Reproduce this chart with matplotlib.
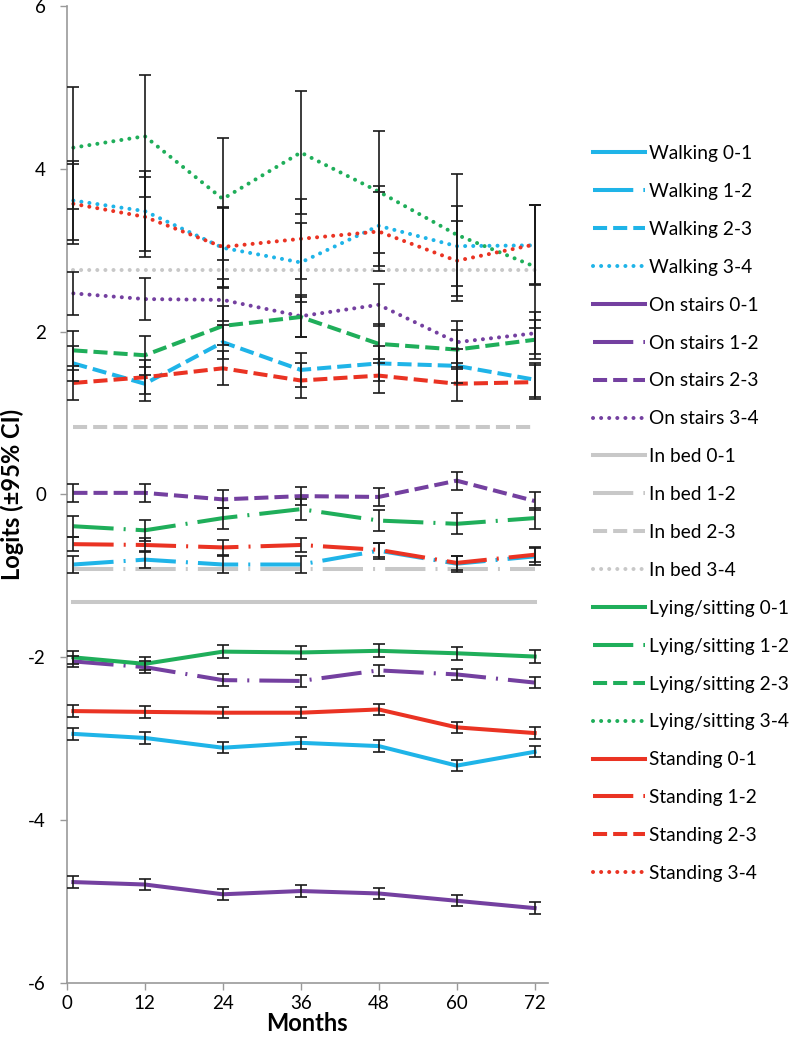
import numpy as np
import matplotlib
matplotlib.use("Agg")
import matplotlib.pyplot as plt

plt.rcParams['font.family'] = ['Lato', 'DejaVu Sans']
plt.rcParams['axes.unicode_minus'] = False

MONTHS = [1, 12, 24, 36, 48, 60, 72]
XTICKS = [0, 12, 24, 36, 48, 60, 72]

# logits per series
walking_01 = [-2.94, -2.99, -3.11, -3.05, -3.09, -3.33, -3.16]
walking_12 = [-0.86, -0.80, -0.86, -0.86, -0.69, -0.85, -0.76]
walking_23 = [1.61, 1.36, 1.87, 1.53, 1.61, 1.58, 1.41]
walking_34 = [3.61, 3.48, 3.03, 2.85, 3.30, 3.05, 3.06]

stairs_01 = [-4.76, -4.79, -4.91, -4.87, -4.90, -4.99, -5.08]
stairs_12 = [-2.05, -2.12, -2.28, -2.29, -2.16, -2.21, -2.31]
stairs_23 = [0.02, 0.02, -0.06, -0.02, -0.03, 0.17, -0.08]
stairs_34 = [2.47, 2.40, 2.39, 2.19, 2.33, 1.87, 1.98]

bed_01 = [-1.32] * 7
bed_12 = [-0.91] * 7
bed_23 = [0.83] * 7
bed_34 = [2.76] * 7

lying_01 = [-2.00, -2.08, -1.93, -1.94, -1.92, -1.95, -1.99]
lying_12 = [-0.39, -0.44, -0.29, -0.18, -0.32, -0.36, -0.29]
lying_23 = [1.77, 1.71, 2.07, 2.18, 1.85, 1.78, 1.90]
lying_34 = [4.26, 4.40, 3.63, 4.20, 3.72, 3.19, 2.80]

standing_01 = [-2.66, -2.67, -2.68, -2.68, -2.64, -2.86, -2.93]
standing_12 = [-0.61, -0.62, -0.65, -0.62, -0.68, -0.84, -0.74]
standing_23 = [1.37, 1.44, 1.55, 1.40, 1.46, 1.36, 1.38]
standing_34 = [3.57, 3.41, 3.04, 3.14, 3.23, 2.87, 3.07]

# half widths of the 95% CI (None = no error bars)
ci_walking = [0.07, 0.10, 0.21, 0.49]
ci_stairs = [0.07, 0.07, 0.11, 0.26]
ci_bed = [None, None, None, None]
ci_lying = [0.08, 0.13, 0.24, 0.75]
ci_standing = [0.07, 0.09, 0.21, 0.49]

activities = ["Walking", "On stairs", "In bed", "Lying/sitting", "Standing"]
levels = ["0-1", "1-2", "2-3", "3-4"]
series = [
    [walking_01, walking_12, walking_23, walking_34],
    [stairs_01, stairs_12, stairs_23, stairs_34],
    [bed_01, bed_12, bed_23, bed_34],
    [lying_01, lying_12, lying_23, lying_34],
    [standing_01, standing_12, standing_23, standing_34],
]
cis = [ci_walking, ci_stairs, ci_bed, ci_lying, ci_standing]
colors = ["#1fb4e8", "#7440a0", "#c8c8c8", "#1fae5a", "#ea3323"]

styles = [
    dict(linestyle="-"),
    dict(linestyle=(0, (10, 2.5, 0.5, 2.5)), dash_capstyle="butt"),
    dict(linestyle=(0, (3.5, 1.5)), dash_capstyle="butt"),
    dict(linestyle=(0, (0.01, 2)), dash_capstyle="round"),
]

fig = plt.figure(figsize=(7.96, 10.45), dpi=100)
ax = fig.add_axes([0.084, 0.0593, 0.604, 0.935])

for act, ser, ci, col in zip(activities, series, cis, colors):
    for lev, vals, err, st in zip(levels, ser, ci, styles):
        ax.plot(MONTHS, vals, color=col, lw=2.9, label=f"{act} {lev}",
                zorder=3, **st)
        if err is not None:
            ax.errorbar(MONTHS, vals, yerr=err, fmt="none", ecolor="#1a1a1a",
                        elinewidth=1.2, capsize=4.5, capthick=1.2, zorder=4)

ax.set_xlim(0, 74)
ax.set_ylim(-6, 6)
ax.set_xticks(XTICKS)
ax.set_yticks([-6, -4, -2, 0, 2, 4, 6])
ax.tick_params(labelsize=13.5, length=5, color="#999999", width=1)
ax.tick_params(axis="y", pad=10)
for s in ["top", "right"]:
    ax.spines[s].set_visible(False)
for s in ["left", "bottom"]:
    ax.spines[s].set_color("#999999")
    ax.spines[s].set_linewidth(1.2)

ax.set_xlabel("Months", fontsize=17, fontweight="bold", labelpad=0)
ax.set_ylabel("Logits (\u00b195% CI)", fontsize=17, fontweight="bold",
              labelpad=3)

ax.legend(loc="upper left", bbox_to_anchor=(0.745, 0.8612),
          bbox_transform=fig.transFigure, frameon=False,
          fontsize=13.8, handlelength=2.7, handletextpad=0.2,
          labelspacing=1.09, borderaxespad=0, borderpad=0)

fig.savefig("out.png", dpi=100)
